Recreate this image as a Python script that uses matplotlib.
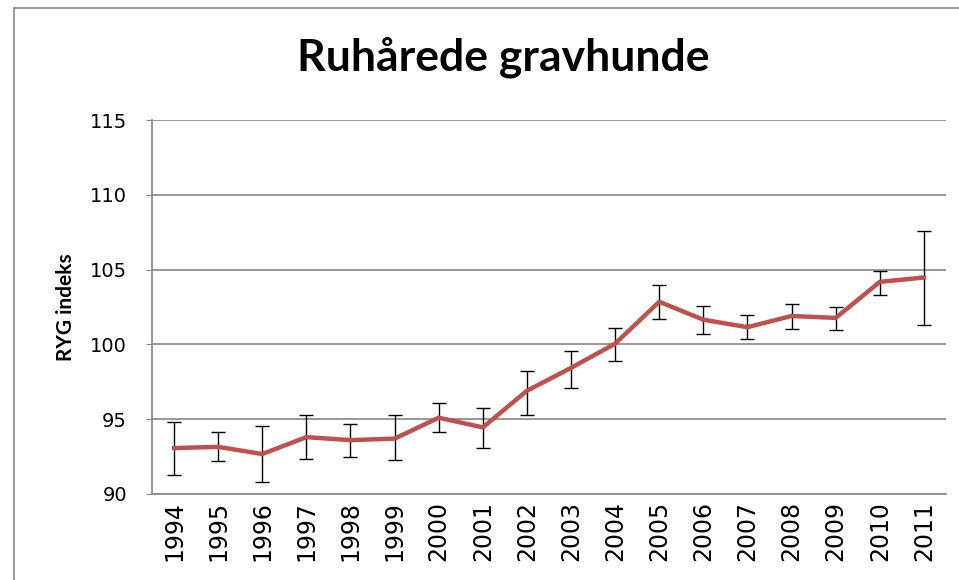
import matplotlib.pyplot as plt
from matplotlib.patches import Rectangle
import numpy as np

# data
years = ['1994', '1995', '1996', '1997', '1998', '1999', '2000', '2001', '2002',
         '2003', '2004', '2005', '2006', '2007', '2008', '2009', '2010', '2011']
index = [93.07, 93.15, 92.67, 93.8, 93.6, 93.7, 95.1, 94.45, 96.9,
         98.43, 100.05, 102.85, 101.65, 101.15, 101.9, 101.77, 104.18, 104.47]
upper = [94.8, 94.15, 94.55, 95.25, 94.7, 95.25, 96.1, 95.75, 98.25,
         99.54, 101.1, 103.98, 102.55, 101.99, 102.7, 102.53, 104.9, 107.6]
lower = [91.3, 92.2, 90.8, 92.35, 92.45, 92.27, 94.15, 93.1, 95.3,
         97.1, 98.9, 101.7, 100.7, 100.33, 101.02, 100.93, 103.3, 101.3]
yticks = [90, 95, 100, 105, 110, 115]

idx = np.array(index)
yerr = [idx - np.array(lower), np.array(upper) - idx]
x = np.arange(len(years))

fig = plt.figure(figsize=(9.59, 5.8), dpi=100)
ax = fig.add_axes([0.1585, 0.1483, 0.8279, 0.6448])

# chart border
fig.patches.append(Rectangle((14 / 959, -0.1), 1.2, 1 - 8 / 580 + 0.1,
                             transform=fig.transFigure, fill=False,
                             edgecolor='#868686', linewidth=1.2))

ax.grid(axis='y', color='#868686', linewidth=1.2, zorder=0)
ax.errorbar(x, idx, yerr=yerr, fmt='none', ecolor='black', elinewidth=1,
            capsize=5, capthick=1, zorder=2)
ax.plot(x, idx, color='#C0504D', linewidth=3.2, zorder=3)

ax.set_xlim(-0.5, len(years) - 0.5)
ax.set_ylim(90, 115)
ax.set_yticks(yticks)
ax.set_xticks(x)
ax.set_xticklabels(years, rotation=90, fontsize=17)
ax.tick_params(axis='y', labelsize=14, length=4, color='#868686', pad=14)
ax.tick_params(axis='x', length=0, pad=5)

for s in ['top', 'right']:
    ax.spines[s].set_visible(False)
for s in ['left', 'bottom']:
    ax.spines[s].set_color('#868686')
    ax.spines[s].set_linewidth(1.2)

ax.set_ylabel('RYG indeks', fontsize=15, fontweight='bold', family='Lato', labelpad=10)
fig.text(503 / 959, 1 - 57 / 580, 'Ruhårede gravhunde', ha='center', va='center',
         fontsize=32, fontweight='bold', family='Lato')

fig.savefig('out.png', dpi=100)
